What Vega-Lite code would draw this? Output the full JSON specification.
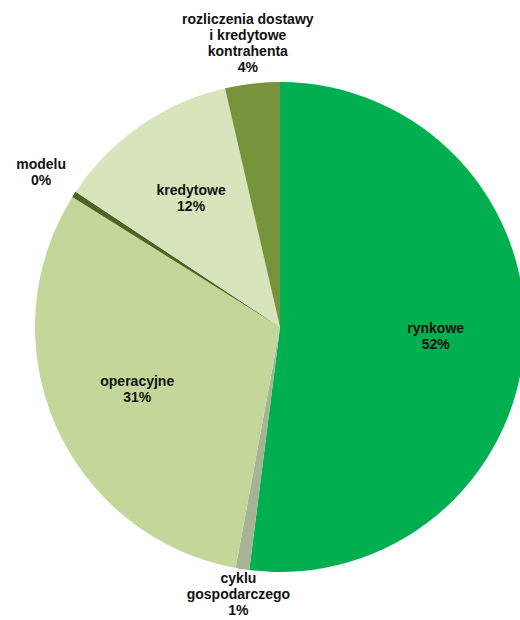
{
  "$schema": "https://vega.github.io/schema/vega-lite/v6.json",
  "width": 480,
  "height": 490,
  "autosize": "none",
  "padding": {"left": 40, "top": 82, "right": 0, "bottom": 48},
  "background": "white",
  "config": {
    "view": {"stroke": null},
    "text": {"font": "Liberation Sans", "fontSize": 14, "fontWeight": "bold", "letterSpacing": 0.4, "lineBreak": "\n", "lineHeight": 16, "fill": "#111111", "align": "center", "baseline": "middle"}
  },
  "data": {
    "values": [
      {"name": "rynkowe", "value": 52.0},
      {"name": "cyklu\ngospodarczego", "value": 0.9},
      {"name": "operacyjne", "value": 31.0},
      {"name": "modelu", "value": 0.4},
      {"name": "kredytowe", "value": 12.1},
      {"name": "rozliczenia dostawy\ni kredytowe\nkontrahenta", "value": 3.6}
    ]
  },
  "transform": [
    {"window": [{"op": "row_number", "as": "idx"}]},
    {"calculate": "datum.name + '\\n' + format(datum.value, '.0f') + '%'", "as": "label"},
    {"calculate": "length(split(datum.label, '\\n'))", "as": "nlines"}
  ],
  "encoding": {
    "theta": {"field": "value", "type": "quantitative", "stack": true},
    "order": {"field": "idx", "type": "quantitative"}
  },
  "layer": [
    {
      "mark": {"type": "arc", "outerRadius": 245},
      "encoding": {
        "color": {
          "field": "name",
          "type": "nominal",
          "scale": {
            "domain": ["rynkowe", "cyklu\ngospodarczego", "operacyjne", "modelu", "kredytowe", "rozliczenia dostawy\ni kredytowe\nkontrahenta"],
            "range": ["#00B050", "#A6B495", "#C4D79B", "#4F6228", "#D8E4BC", "#77933C"]
          },
          "legend": null
        }
      }
    },
    {
      "mark": {"type": "text", "radius": 156, "dy": -8},
      "encoding": {
        "text": {"condition": {"test": "datum.value >= 5", "field": "label"}, "value": ""}
      }
    },
    {
      "mark": {"type": "text", "radius": 284, "dy": -8},
      "encoding": {
        "text": {"condition": {"test": "datum.value < 5 && datum.nlines == 2", "field": "label"}, "value": ""}
      }
    },
    {
      "mark": {"type": "text", "radius": 271, "dy": -16},
      "encoding": {
        "text": {"condition": {"test": "datum.value < 5 && datum.nlines == 3", "field": "label"}, "value": ""}
      }
    },
    {
      "mark": {"type": "text", "radius": 285, "dy": -24},
      "encoding": {
        "text": {"condition": {"test": "datum.value < 5 && datum.nlines == 4", "field": "label"}, "value": ""}
      }
    }
  ]
}
